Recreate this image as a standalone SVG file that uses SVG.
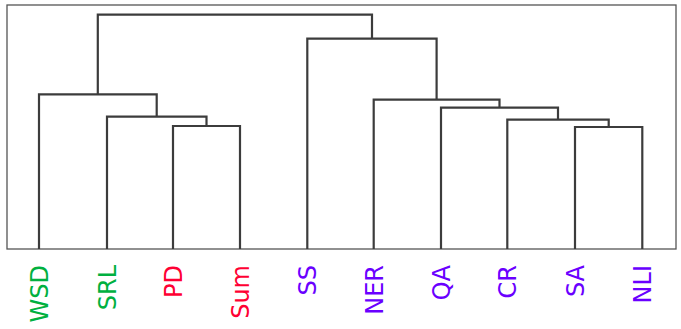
<svg xmlns="http://www.w3.org/2000/svg" width="681" height="329" viewBox="0 0 681 329">
<style>
.frame{fill:none;stroke:#555;stroke-width:1.3}
.link{fill:none;stroke:#3c3c3c;stroke-width:2.2;stroke-linejoin:miter}
.lbl{font-family:"DejaVu Sans",sans-serif;font-size:24px;text-anchor:end}
.g{fill:#00b040}.r{fill:#ff0033}.p{fill:#6a00ff}
</style>
<rect width="681" height="329" fill="#fff"/>
<rect class="frame" x="7" y="5" width="669" height="244"/>
<g id="connectors">
<path class="link" d="M173,249 V126 H240 V249"/>
<path class="link" d="M107,249 V116.7 H206.5 V126"/>
<path class="link" d="M39,249 V94.3 H156.7 V116.7"/>
<path class="link" d="M575,249 V127 H642.3 V249"/>
<path class="link" d="M507.3,249 V119.7 H608.7 V127"/>
<path class="link" d="M441,249 V107.7 H558 V119.7"/>
<path class="link" d="M373.7,249 V99.7 H499.5 V107.7"/>
<path class="link" d="M307.3,249 V38.7 H436.6 V99.7"/>
<path class="link" d="M97.8,94.3 V14.7 H372 V38.7"/>
</g>
<g id="WSD"><text class="lbl g" transform="translate(48,265) rotate(-90)">WSD</text></g>
<g id="SRL"><text class="lbl g" transform="translate(115.5,265) rotate(-90)">SRL</text></g>
<g id="PD"><text class="lbl r" transform="translate(181.5,265) rotate(-90)">PD</text></g>
<g id="Sum"><text class="lbl r" transform="translate(248.8,265) rotate(-90)">Sum</text></g>
<g id="SS"><text class="lbl p" transform="translate(316,265) rotate(-90)">SS</text></g>
<g id="NER"><text class="lbl p" transform="translate(382.5,265) rotate(-90)">NER</text></g>
<g id="QA"><text class="lbl p" transform="translate(449.8,265) rotate(-90)">QA</text></g>
<g id="CR"><text class="lbl p" transform="translate(516,265) rotate(-90)">CR</text></g>
<g id="SA"><text class="lbl p" transform="translate(583.8,265) rotate(-90)">SA</text></g>
<g id="NLI"><text class="lbl p" transform="translate(651,265) rotate(-90)">NLI</text></g>
</svg>
